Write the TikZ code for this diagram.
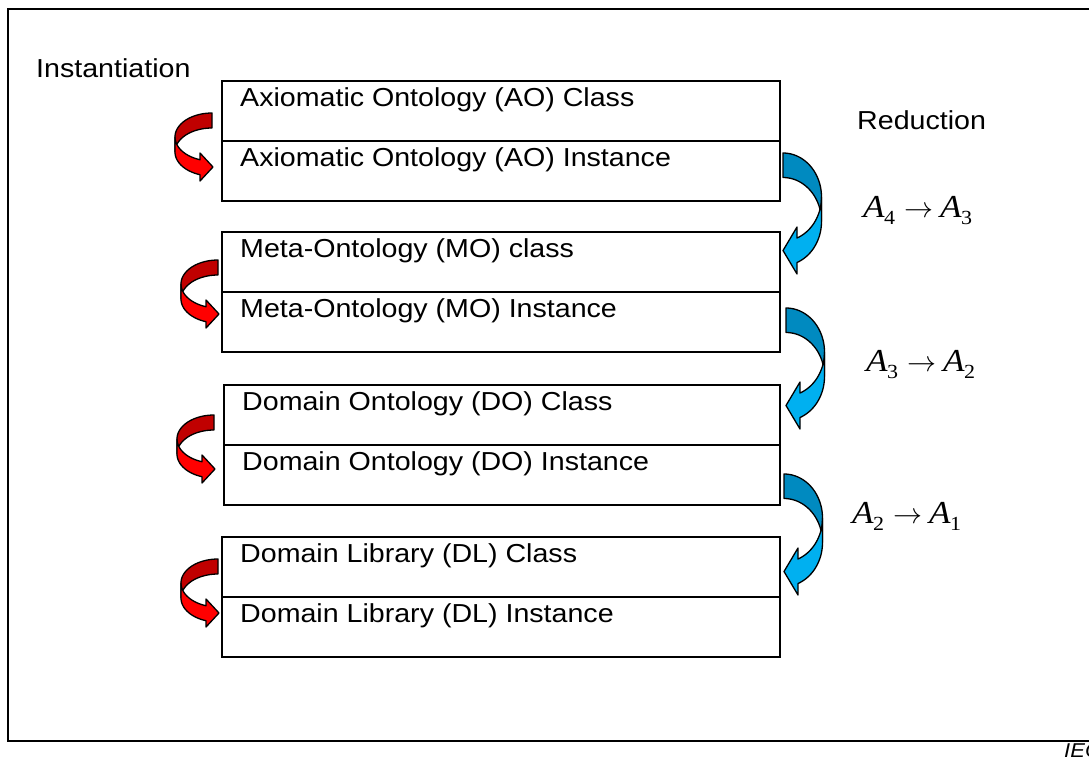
\documentclass[tikz,border=0pt]{standalone}
\usepackage{fontspec}
\setmainfont[FakeStretch=1.1]{Liberation Sans}
\newfontfamily\serifA[FakeStretch=1.1]{Liberation Serif}

\definecolor{redDark}{RGB}{192,0,0}
\definecolor{redLight}{RGB}{255,0,0}
\definecolor{blueDark}{RGB}{0,138,192}
\definecolor{blueLight}{RGB}{0,176,240}

\tikzset{
  frame/.style={draw=black, line width=1.6pt},
  cell/.style={draw=black, line width=1.6pt, minimum width=558pt, minimum height=60pt,
               anchor=north west, inner sep=0pt, outer sep=0pt},
  lbl/.style={anchor=base west, inner sep=0pt, font=\fontsize{26}{30}\selectfont},
  ribbon/.style={draw=black, line width=1.3pt, line join=round},
  plotstep/.style={domain=#1, samples=40, smooth}
}

% curved instantiation arrow; #1 is the top point of its tail
\newcommand\instarrow[1]{%
  \begin{scope}[shift={#1}]
    \filldraw[ribbon, fill=redDark]
      plot[plotstep=270:180] ({37*cos(\x)},{24+24*sin(\x)}) -- (-37,39)
      -- plot[plotstep=180:270] ({37*cos(\x)},{39+24*sin(\x)}) -- cycle;
    \filldraw[ribbon, fill=redLight]
      plot[plotstep=180:108.9] ({37*cos(\x)},{24+24*sin(\x)})
      -- (-12,40) -- (1,54) -- (-12,68)
      -- plot[plotstep=108.9:180] ({37*cos(\x)},{39+24*sin(\x)}) -- cycle;
  \end{scope}}

% curved reduction arrow; #1 is the top point of its tail
\newcommand\redarrow[1]{%
  \begin{scope}[shift={#1}]
    \filldraw[ribbon, fill=blueDark]
      plot[plotstep=270:360] ({38.5*cos(\x)},{44+44*sin(\x)}) -- (38.5,68.5)
      -- plot[plotstep=360:270] ({38.5*cos(\x)},{68.5+44*sin(\x)}) -- cycle;
    \filldraw[ribbon, fill=blueLight]
      plot[plotstep=0:68.7] ({38.5*cos(\x)},{44+44*sin(\x)})
      -- (14,74) -- (0,97.5) -- (14,121)
      -- plot[plotstep=68.7:0] ({38.5*cos(\x)},{68.5+44*sin(\x)}) -- cycle;
  \end{scope}}

% reduction formula  A_a -> A_b
\newcommand\reduces[2]{%
  {\fontsize{32}{36}\selectfont\serifA\itshape A}\kern-0.5pt
  \raisebox{-7pt}{\fontsize{20}{22}\selectfont\serifA #1}\hspace{9pt}%
  \resizebox{29pt}{!}{$\rightarrow$}\hspace{7pt}%
  {\fontsize{32}{36}\selectfont\serifA\itshape A}\kern-0.5pt
  \raisebox{-7pt}{\fontsize{20}{22}\selectfont\serifA #2}}

\begin{document}
\begin{tikzpicture}[x=1pt, y=-1pt]
\useasboundingbox (0,0) rectangle (1089,756);

% outer frame, open to the right
\draw[frame] (1100,9) -- (8,9) -- (8,741) -- (1100,741);

% headings
\node[lbl] (inst) at (36,77) {Instantiation};
\node[lbl] (redu) at (857,129.5) {Reduction};

% ontology levels, each a class cell above an instance cell
\node[cell] (aoC) at (222,81) {};
\node[cell] (aoI) at (aoC.south west) {};
\node[cell] (moC) at (222,232) {};
\node[cell] (moI) at (moC.south west) {};
\node[cell, minimum width=556pt] (doC) at (224,385) {};
\node[cell, minimum width=556pt] (doI) at (doC.south west) {};
\node[cell] (dlC) at (222,537) {};
\node[cell] (dlI) at (dlC.south west) {};

\node[lbl] (aoCt) at ([shift={(18,25)}]aoC.north west) {Axiomatic Ontology (AO) Class};
\node[lbl] (aoIt) at ([shift={(18,25)}]aoI.north west) {Axiomatic Ontology (AO) Instance};
\node[lbl] (moCt) at ([shift={(18,25)}]moC.north west) {Meta-Ontology (MO) class};
\node[lbl] (moIt) at ([shift={(18,25)}]moI.north west) {Meta-Ontology (MO) Instance};
\node[lbl] (doCt) at ([shift={(18,25)}]doC.north west) {Domain Ontology (DO) Class};
\node[lbl] (doIt) at ([shift={(18,25)}]doI.north west) {Domain Ontology (DO) Instance};
\node[lbl] (dlCt) at ([shift={(18,25)}]dlC.north west) {Domain Library (DL) Class};
\node[lbl] (dlIt) at ([shift={(18,25)}]dlI.north west) {Domain Library (DL) Instance};

% instantiation arrows (class -> instance)
\instarrow{(212,113)}
\instarrow{(218,260)}
\instarrow{(214,415)}
\instarrow{(218,559)}

% reduction arrows (level -> next level)
\redarrow{(783,153)}
\redarrow{(786,308)}
\redarrow{(784,474)}

\node[lbl] (r43) at (863,217.3) {\reduces{4}{3}};
\node[lbl] (r32) at (866,371.7) {\reduces{3}{2}};
\node[lbl] (r21) at (852,523) {\reduces{2}{1}};

\node[lbl, font=\fontsize{20}{24}\selectfont\itshape] (iec) at (1064,757.5) {IEC};
\end{tikzpicture}
\end{document}
